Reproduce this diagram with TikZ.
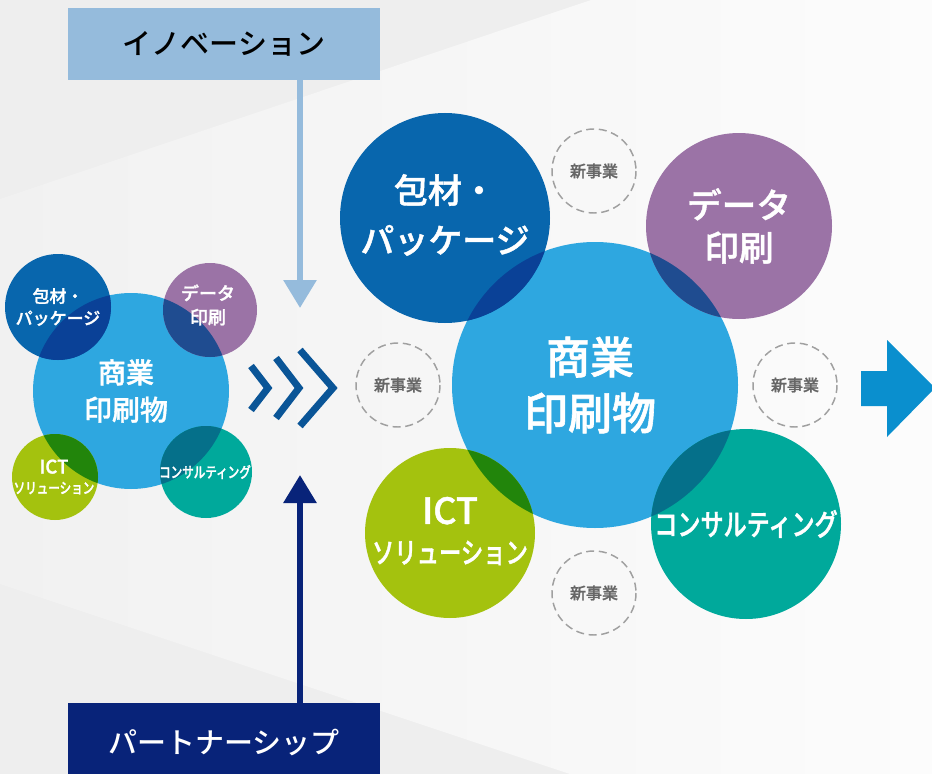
\documentclass[tikz,border=0pt]{standalone}
\usepackage{fontspec}
\newfontfamily\jp[FakeBold=1.3]{Noto Sans CJK JP Medium}
\newfontfamily\jpn[FakeStretch=0.77,FakeBold=1.3]{Noto Sans CJK JP Medium}
\newfontfamily\jpr{Noto Sans CJK JP Medium}
\usetikzlibrary{arrows.meta}

\definecolor{bgdark}{HTML}{EEEEEE}
\definecolor{bgmid}{HTML}{F1F1F1}
\definecolor{bglight}{HTML}{FCFCFC}
\definecolor{pkg}{HTML}{0866AD}
\definecolor{core}{HTML}{2EA7E0}
\definecolor{data}{HTML}{9B73A6}
\definecolor{ict}{HTML}{A4C20E}
\definecolor{cons}{HTML}{00A99B}
\definecolor{pkgov}{HTML}{0A4197}
\definecolor{dataov}{HTML}{1F4C90}
\definecolor{ictov}{HTML}{22850B}
\definecolor{consov}{HTML}{05708A}
\definecolor{chev}{HTML}{0A5597}
\definecolor{nextarr}{HTML}{0A8FCE}
\definecolor{inno}{HTML}{95BBDC}
\definecolor{part}{HTML}{082379}
\definecolor{dashgray}{HTML}{A0A0A0}
\definecolor{newtext}{HTML}{666666}

\tikzset{every picture/.style={line width=0.75pt}}

\begin{document}
\begin{tikzpicture}[x=0.75pt,y=0.75pt,yscale=-1,xscale=1,
  lbl/.style={text=white, align=center, inner sep=0pt},
  newbiz/.style={draw=dashgray, line width=1.1pt, dash pattern=on 6pt off 3.5pt},
  newlbl/.style={text=newtext, inner sep=0pt, font=\jp\fontsize{12}{14}\selectfont},
  chevline/.style={draw=chev, line width=5.25pt, miter limit=10},
  catbox/.style={minimum width=234pt, minimum height=54pt, inner sep=0pt, font=\jpr\fontsize{21.75}{26}\selectfont}]
        \useasboundingbox (0,0) rectangle (932,774);
        \clip (0,0) rectangle (932,774);

        %Shape: Rectangle - background
        \fill[bgdark] (0,0) rectangle (932,774);
        %Shape: Polygon - light wedge
        \shade[left color=bgmid, right color=bglight] (0,199) -- (591,0) -- (932,0) -- (932,774) -- (570,774) -- (0,584) -- cycle;

        %Shape: Circle - small cluster
        \fill[core] (131,391) circle (98);
        \fill[pkg] (58,307) circle (53);
        \fill[data] (210,310) circle (47);
        \fill[ict] (55,477) circle (43);
        \fill[cons] (206,472) circle (46);
        \begin{scope}
          \clip (131,391) circle (98);
          \fill[pkgov] (58,307) circle (53);
          \fill[dataov] (210,310) circle (47);
          \fill[ictov] (55,477) circle (43);
          \fill[consov] (206,472) circle (46);
        \end{scope}

        %Shape: Circle - large cluster
        \fill[core] (595,385) circle (143);
        \fill[pkg] (445,218) circle (105);
        \fill[data] (739,226) circle (93);
        \fill[ict] (450,533) circle (85);
        \fill[cons] (746,524) circle (95);
        \begin{scope}
          \clip (595,385) circle (143);
          \fill[pkgov] (445,218) circle (105);
          \fill[dataov] (739,226) circle (93);
          \fill[ictov] (450,533) circle (85);
          \fill[consov] (746,524) circle (95);
        \end{scope}

        %Shape: Circle - dashed
        \draw[newbiz] (594,171) circle (42);
        \draw[newbiz] (398,385) circle (42);
        \draw[newbiz] (795,385) circle (42);
        \draw[newbiz] (594,593) circle (42);

        %Straight Lines - chevrons
        \draw[chevline] (251,366) -- (268,388) -- (251,410);
        \draw[chevline] (276,358) -- (299,388) -- (276,418);
        \draw[chevline] (300,350) -- (333,388) -- (300,426);

        %Shape: Right Arrow
        \fill[nextarr] (861,371) -- (887,371) -- (887,340) -- (935,388) -- (887,437) -- (887,406) -- (861,406) -- cycle;

        % Text Node - small cluster
        \node[lbl, font=\jp\fontsize{21}{28}\selectfont] (score) at (126,391) {商業\\印刷物};
        \node[lbl, font=\jp\fontsize{12.75}{16.5}\selectfont] (spkg) at (58,307) {包材・\\パッケージ};
        \node[lbl, font=\jp\fontsize{13.5}{18}\selectfont] (sdata) at (208,305) {データ\\印刷};
        \node[lbl, font=\jp\fontsize{14}{15}\selectfont] (sict) at (54,477) {ICT\\{\jpn\fontsize{11.25}{15}\selectfont ソリューション}};
        \node[lbl, font=\jpn\fontsize{11.25}{14}\selectfont] (scons) at (205,472) {コンサルティング};

        % Text Node - large cluster
        \node[lbl, font=\jp\fontsize{33}{42}\selectfont] (bcore) at (590,385) {商業\\印刷物};
        \node[lbl, font=\jp\fontsize{25.5}{37.5}\selectfont] (bpkg) at (445,215) {包材・\\パッケージ};
        \node[lbl, font=\jp\fontsize{26}{32}\selectfont] (bdata) at (739,226) {データ\\印刷};
        \node[lbl, font=\jp\fontsize{27}{29.5}\selectfont] (bict) at (450,531) {ICT\\{\jpn\fontsize{21.75}{29.5}\selectfont ソリューション}};
        \node[lbl, font=\jpn\fontsize{22.5}{26}\selectfont] (bcons) at (746,524) {コンサルティング};

        % Text Node - new business
        \node[newlbl] (new1) at (594,171) {新事業};
        \node[newlbl] (new2) at (398,385) {新事業};
        \node[newlbl] (new3) at (795,385) {新事業};
        \node[newlbl] (new4) at (594,593) {新事業};

        % Text Node - boxes
        \node[catbox, fill=inno, text=black] (innov) at (224,44) {イノベーション};
        \node[catbox, fill=part, text=white, minimum height=60pt] (partner) at (224,743) {パートナーシップ};

        %Straight Lines - arrows
        \coordinate (innotip) at (300,308);
        \coordinate (parttip) at (300,475);
        \draw[inno, line width=4.5pt, -{Triangle[width=24pt,length=21pt]}] (innov.south -| innotip) -- (innotip);
        \draw[part, line width=4.5pt, -{Triangle[width=24pt,length=21pt]}] (partner.north -| parttip) -- (parttip);

\end{tikzpicture}
\end{document}
